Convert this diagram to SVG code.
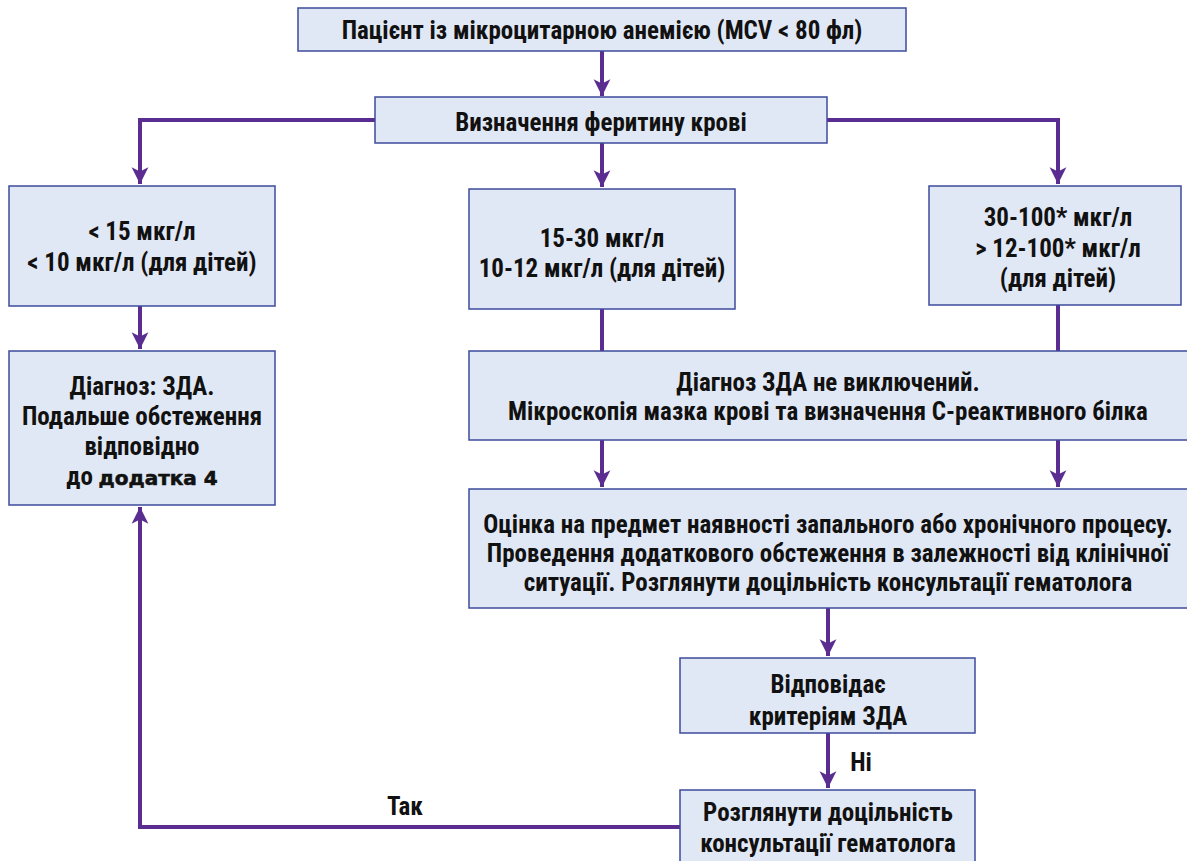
<svg xmlns="http://www.w3.org/2000/svg" width="1187" height="861" viewBox="0 0 1187 861">
<defs>
<marker id="ah" viewBox="0 0 10 10" refX="10" refY="5" markerWidth="4.2" markerHeight="5" markerUnits="strokeWidth" orient="auto">
<path d="M0,0 L10,5 L0,10 L2.5,5 Z" fill="#5b2d91"/>
</marker>
<style>
.box{fill:#e1e8f5;stroke:#3d4b9c;stroke-width:1.5}
.t{font-family:"Liberation Sans Narrow","Roboto Condensed","Liberation Sans",sans-serif;font-weight:bold;font-size:25px;fill:#111;text-anchor:middle}
.c{fill:none;stroke:#5b2d91;stroke-width:4}
tspan.w{font-family:"DejaVu Sans","Liberation Sans",sans-serif;font-weight:bold;font-size:20px;stroke:#111;stroke-width:0.6}
</style>
</defs>
<rect width="1187" height="861" fill="#fff"/>
<g id="connectors">
<line class="c" x1="602" y1="51" x2="602" y2="96" marker-end="url(#ah)"/>
<polyline class="c" points="375,120 140,120 140,184" marker-end="url(#ah)"/>
<polyline class="c" points="827,120 1058,120 1058,184" marker-end="url(#ah)"/>
<line class="c" x1="602" y1="143" x2="602" y2="187" marker-end="url(#ah)"/>
<line class="c" x1="140" y1="306" x2="140" y2="349" marker-end="url(#ah)"/>
<line class="c" x1="602" y1="309" x2="602" y2="351"/>
<line class="c" x1="1058" y1="305" x2="1058" y2="351"/>
<line class="c" x1="602" y1="440" x2="602" y2="487" marker-end="url(#ah)"/>
<line class="c" x1="1058" y1="440" x2="1058" y2="487" marker-end="url(#ah)"/>
<line class="c" x1="828" y1="608" x2="828" y2="656" marker-end="url(#ah)"/>
<line class="c" x1="828" y1="733" x2="828" y2="788" marker-end="url(#ah)"/>
<polyline class="c" points="680,827 140,827 140,507" marker-end="url(#ah)"/>
<text class="t" x="861" y="771">Ні</text>
<text class="t" x="405" y="815">Так</text>
</g>
<g id="n1"><rect class="box" x="298" y="8" width="608" height="43"/>
<text class="t" x="602" y="39">Пацієнт із мікроцитарною анемією (MCV &lt; 80 фл)</text></g>
<g id="n2"><rect class="box" x="375" y="97" width="452" height="46"/>
<text class="t" x="601" y="131">Визначення феритину крові</text></g>
<g id="n3"><rect class="box" x="9" y="186" width="266" height="120"/>
<text class="t" x="142" y="240">&lt; 15 мкг/л</text>
<text class="t" x="142" y="271">&lt; 10 мкг/л (для дітей)</text></g>
<g id="n4"><rect class="box" x="469" y="189" width="266" height="120"/>
<text class="t" x="602" y="247">15-30 мкг/л</text>
<text class="t" x="602" y="277">10-12 мкг/л (для дітей)</text></g>
<g id="n5"><rect class="box" x="929" y="186" width="252" height="119"/>
<text class="t" x="1058" y="226">30-100* мкг/л</text>
<text class="t" x="1058" y="257">&gt; 12-100* мкг/л</text>
<text class="t" x="1058" y="287">(для дітей)</text></g>
<g id="n6"><rect class="box" x="9" y="351" width="266" height="154"/>
<text class="t" x="142" y="395">Діагноз: ЗДА.</text>
<text class="t" x="142" y="425">Подальше обстеження</text>
<text class="t" x="142" y="455">відповідно</text>
<text class="t" x="142" y="485">до <tspan class="w">додатка 4</tspan></text></g>
<g id="n7"><rect class="box" x="469" y="351" width="725" height="89"/>
<text class="t" x="828" y="391">Діагноз ЗДА не виключений.</text>
<text class="t" x="828" y="420">Мікроскопія мазка крові та визначення С-реактивного білка</text></g>
<g id="n8"><rect class="box" x="469" y="489" width="725" height="119"/>
<text class="t" x="828" y="533">Оцінка на предмет наявності запального або хронічного процесу.</text>
<text class="t" x="828" y="562">Проведення додаткового обстеження в залежності від клінічної</text>
<text class="t" x="828" y="591">ситуації. Розглянути доцільність консультації гематолога</text></g>
<g id="n9"><rect class="box" x="680" y="658" width="295" height="75"/>
<text class="t" x="828" y="693">Відповідає</text>
<text class="t" x="828" y="725">критеріям ЗДА</text></g>
<g id="n10"><rect class="box" x="680" y="790" width="295" height="80"/>
<text class="t" x="828" y="821">Розглянути доцільність</text>
<text class="t" x="828" y="852">консультації гематолога</text></g>
</svg>
